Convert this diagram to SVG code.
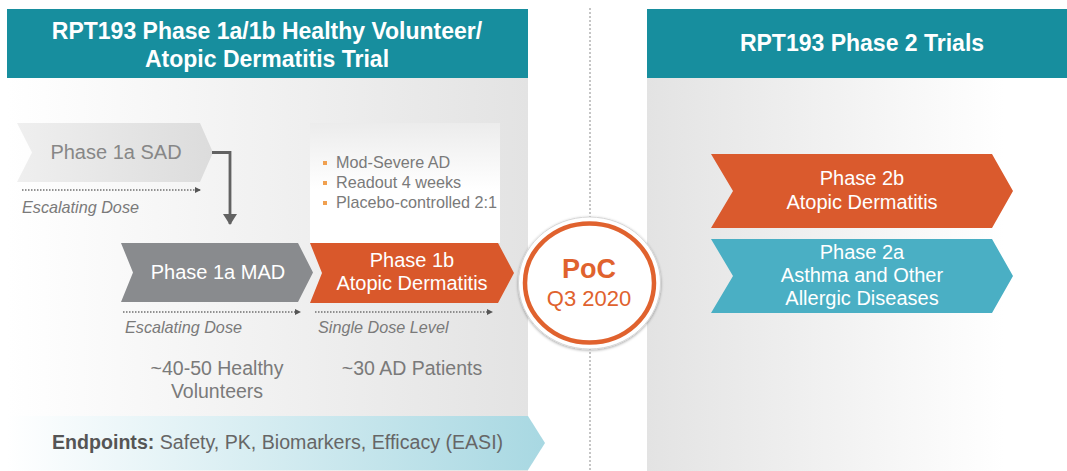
<svg xmlns="http://www.w3.org/2000/svg" width="1067" height="471" viewBox="0 0 1067 471">
  <defs>
    <linearGradient id="gLeft" x1="0" y1="0" x2="1" y2="0">
      <stop offset="0" stop-color="#ffffff"/>
      <stop offset="1" stop-color="#e3e3e3"/>
    </linearGradient>
    <linearGradient id="gRight" x1="0" y1="0" x2="1" y2="0">
      <stop offset="0" stop-color="#e3e3e3"/>
      <stop offset="0.85" stop-color="#ffffff"/>
    </linearGradient>
    <linearGradient id="gSad" x1="0" y1="0" x2="1" y2="0">
      <stop offset="0" stop-color="#efefef"/>
      <stop offset="1" stop-color="#dcdcdc"/>
    </linearGradient>
    <linearGradient id="gBox" x1="0" y1="0" x2="0" y2="1">
      <stop offset="0" stop-color="#ececec"/>
      <stop offset="0.55" stop-color="#ffffff"/>
    </linearGradient>
    <linearGradient id="gEnd" x1="0" y1="0" x2="1" y2="0">
      <stop offset="0" stop-color="#ffffff"/>
      <stop offset="1" stop-color="#a8d8e2"/>
    </linearGradient>
    <filter id="shadow" x="-20%" y="-20%" width="140%" height="140%">
      <feGaussianBlur in="SourceAlpha" stdDeviation="1.5"/>
      <feOffset dx="0" dy="1" result="b"/>
      <feComponentTransfer><feFuncA type="linear" slope="0.35"/></feComponentTransfer>
      <feMerge><feMergeNode/><feMergeNode in="SourceGraphic"/></feMerge>
    </filter>
    <marker id="dotHead" viewBox="0 0 6 6" refX="5" refY="3" markerWidth="6" markerHeight="6" markerUnits="userSpaceOnUse" orient="auto">
      <path d="M0,0 L6,3 L0,6 Z" fill="#555"/>
    </marker>
    <marker id="elbowHead" viewBox="0 0 14 11" refX="7" refY="10" markerWidth="14" markerHeight="11" markerUnits="userSpaceOnUse" orient="0">
      <path d="M0,0 L14,0 L7,11 Z" fill="#626262"/>
    </marker>
  </defs>
  <style>
    text { font-family: "Liberation Sans", Arial, sans-serif; }
    .hdr { fill: #ffffff; font-weight: bold; font-size: 23px; text-anchor: middle; }
    .lbl { fill: #ffffff; font-size: 20px; text-anchor: middle; }
    .dose { fill: #7a7a7a; font-size: 16.2px; font-style: italic; }
    .info { fill: #7a7a7a; font-size: 19.5px; text-anchor: middle; }
    .bul { fill: #7a7a7a; font-size: 16.2px; }
    .dotted { stroke: #707070; stroke-width: 1.3; stroke-dasharray: 1.5 1.5; fill: none; }
  </style>

  <rect width="1067" height="471" fill="#ffffff"/>

  <!-- panels -->
  <rect x="7" y="78" width="521" height="393" fill="url(#gLeft)"/>
  <rect x="647" y="78" width="420" height="393" fill="url(#gRight)"/>

  <!-- divider -->
  <line x1="590" y1="8" x2="590" y2="471" stroke="#b3b3b3" stroke-width="1.5" stroke-dasharray="2 2"/>

  <g id="header-left">
    <rect x="7" y="9" width="521" height="69" fill="#178e9e"/>
    <text class="hdr" x="267" y="39">RPT193 Phase 1a/1b Healthy Volunteer/</text>
    <text class="hdr" x="267" y="67">Atopic Dermatitis Trial</text>
  </g>
  <g id="header-right">
    <rect x="647" y="9" width="420" height="69" fill="#178e9e"/>
    <text class="hdr" x="862" y="51">RPT193 Phase 2 Trials</text>
  </g>

  <g id="phase1a-sad">
    <path d="M17,123 L200,123 L213,152.5 L200,182 L17,182 L32,152.5 Z" fill="url(#gSad)"/>
    <text x="116" y="159" font-size="20" fill="#878787" text-anchor="middle">Phase 1a SAD</text>
  </g>

  <g id="phase1a-mad">
    <path d="M121,243 L298,243 L313,272.5 L298,302 L121,302 L133,272.5 Z" fill="#898b8e"/>
    <text class="lbl" x="218" y="279" fill="#f2f2f2">Phase 1a MAD</text>
  </g>

  <g id="phase1b-details">
    <rect x="310" y="123" width="190" height="120" fill="url(#gBox)"/>
    <rect x="323" y="161" width="4" height="4" fill="#f0a050"/>
    <rect x="323" y="181" width="4" height="4" fill="#f0a050"/>
    <rect x="323" y="201" width="4" height="4" fill="#f0a050"/>
    <text class="bul" x="336" y="168">Mod-Severe AD</text>
    <text class="bul" x="336" y="188">Readout 4 weeks</text>
    <text class="bul" x="336" y="208">Placebo-controlled 2:1</text>
  </g>

  <g id="phase1b">
    <path d="M310,243 L498,243 L514,273 L498,303 L310,303 L322,273 Z" fill="#d9582b"/>
    <text class="lbl" x="412" y="267">Phase 1b</text>
    <text class="lbl" x="412" y="290">Atopic Dermatitis</text>
  </g>

  <g id="dose-arrows">
    <line class="dotted" x1="22" y1="190" x2="200" y2="190" marker-end="url(#dotHead)"/>
    <text class="dose" x="22" y="213">Escalating Dose</text>
    <line class="dotted" x1="123" y1="312" x2="300" y2="312" marker-end="url(#dotHead)"/>
    <text class="dose" x="125" y="333">Escalating Dose</text>
    <line class="dotted" x1="315" y1="312" x2="492" y2="312" marker-end="url(#dotHead)"/>
    <text class="dose" x="318" y="333">Single Dose Level</text>
  </g>

  <g id="connectors">
    <path d="M212,152.5 L230,152.5 L230,224" fill="none" stroke="#626262" stroke-width="2.8" marker-end="url(#elbowHead)"/>
  </g>

  <g id="population-notes">
    <text class="info" x="217" y="375">~40-50 Healthy</text>
    <text class="info" x="217" y="398">Volunteers</text>
    <text class="info" x="412" y="375">~30 AD Patients</text>
  </g>

  <g id="endpoints">
    <path d="M7,416 L528,416 L545,443 L528,470 L7,470 Z" fill="url(#gEnd)"/>
    <text x="52" y="449" font-size="19.6" fill="#666"><tspan font-weight="bold" fill="#555">Endpoints:</tspan> Safety, PK, Biomarkers, Efficacy (EASI)</text>
  </g>

  <g id="poc">
    <ellipse cx="589.5" cy="283" rx="71" ry="66" fill="#ffffff" stroke="#d6d6d6" stroke-width="1" filter="url(#shadow)"/>
    <ellipse cx="589.5" cy="283" rx="64.5" ry="59.5" fill="#ffffff" stroke="#e0622e" stroke-width="4.5"/>
    <text x="589" y="278" font-size="27" font-weight="bold" fill="#e0622e" text-anchor="middle">PoC</text>
    <text x="589" y="306" font-size="22" fill="#e0622e" text-anchor="middle">Q3 2020</text>
  </g>

  <g id="phase2b">
    <path d="M711,154 L992,154 L1013,191 L992,228 L711,228 L733,191 Z" fill="#da5a2d"/>
    <text class="lbl" x="862" y="185">Phase 2b</text>
    <text class="lbl" x="862" y="209">Atopic Dermatitis</text>
  </g>

  <g id="phase2a">
    <path d="M711,239 L992,239 L1013,276 L992,313 L711,313 L733,276 Z" fill="#4aafc4"/>
    <text class="lbl" x="862" y="259">Phase 2a</text>
    <text class="lbl" x="862" y="282">Asthma and Other</text>
    <text class="lbl" x="862" y="305">Allergic Diseases</text>
  </g>
</svg>
